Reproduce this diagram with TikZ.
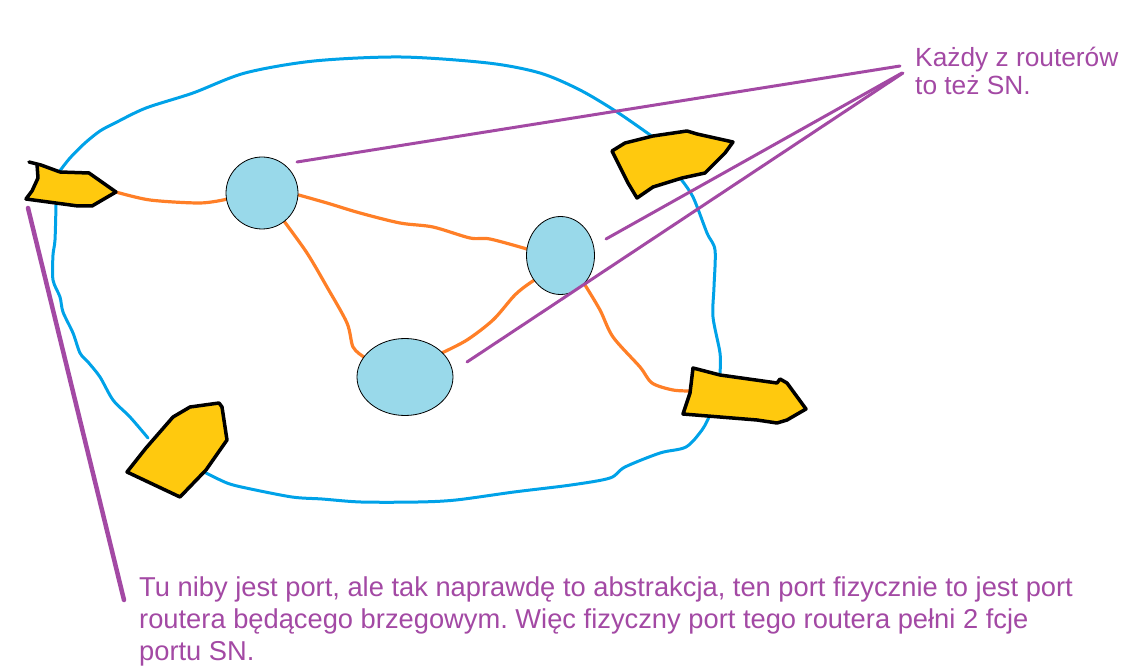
\documentclass[tikz,border=0pt]{standalone}
\usepackage{xcolor}
\usepackage{fontspec}
\setmainfont{Liberation Sans}
\usepackage{tikz}
\usetikzlibrary{positioning}
\usetikzlibrary{shapes.geometric,backgrounds}
\frenchspacing

\definecolor{brzeg}{HTML}{00A2E8}
\definecolor{lacze}{HTML}{FF7F27}
\definecolor{zolty}{HTML}{FFC90E}
\definecolor{wezel}{HTML}{99D9EA}
\definecolor{fiolet}{HTML}{A349A4}

\begin{document}
\begin{tikzpicture}[x=1pt,y=-1pt,
  router/.style={ellipse,draw=black,line width=0.8pt,fill=wezel,inner sep=0pt},
  link/.style={lacze,line width=3.2pt,line cap=round,line join=round},
  granica/.style={brzeg,line width=3pt,line cap=round,line join=round},
  port/.style={draw=black,fill=zolty,line width=3.5pt,line join=round},
  opis/.style={text=fiolet,align=left,inner sep=0pt,anchor=north west},
  wskaz/.style={fiolet,line width=3pt,line cap=round}]
		\useasboundingbox (0,0) rectangle (1122,668);

		\node[router,minimum width=72pt,minimum height=72pt] (r1) at (262,193) {};
		\node[router,minimum width=68pt,minimum height=78pt] (r2) at (560.5,255.5) {};
		\node[router,minimum width=96pt,minimum height=77pt] (r3) at (405,377) {};

		\coordinate (p1) at (116,192);
		\coordinate (p3) at (692,391);

		\begin{scope}[on background layer]
		\draw[granica] plot[smooth,tension=0.5] coordinates {(59,172) (70,158) (85,143) (100,131) (115,123) (146,108) (193,93) (245,73) (314,61) (401,57) (488,63) (540,73) (580,90) (617,112) (653,137)};
		\draw[granica] plot[smooth,tension=0.5] coordinates {(680,178) (693,197) (707,233) (715,250) (714,287) (713,317) (720,353) (720,373)};
		\draw[granica] plot[smooth,tension=0.5] coordinates {(709,417) (702,430) (686,447) (660,453) (625,467) (610,478) (571,485) (514,492) (456,500) (418,502) (361,502) (322,499) (292,497) (246,488) (227,483) (206,473)};
		\draw[granica] plot[smooth,tension=0.5] coordinates {(148,438) (130,417) (113,400) (100,377) (88,362) (80,353) (73,333) (63,312) (60,297) (53,280) (53,255) (55,240) (56,205)};

		\draw[link] plot[smooth,tension=0.5] coordinates {(p1) (150,200) (200,203) (r1.190)};
		\draw[link] plot[smooth,tension=0.5] coordinates {(r1.-3) (327,203) (360,213) (400,223) (433,227) (470,238) (490,239) (r2.169)};
		\draw[link] plot[smooth,tension=0.5] coordinates {(r1.-52) (307,253) (327,287) (347,323) (353,347) (r3.154)};
		\draw[link] plot[smooth,tension=0.5] coordinates {(r3.33) (467,340) (493,320) (513,297) (523,288) (r2.223)};
		\draw[link] plot[smooth,tension=0.5] coordinates {(r2.-50) (600,310) (613,337) (640,367) (652,383) (673,390) (p3)};
		\end{scope}

		\draw[port] (29,162) -- (41,165) -- (60,172) -- (89,173) -- (116,192) -- (92,206) -- (78,206) -- (26,199) -- (32,191) -- (38,178) -- (37,164) -- cycle;
		\draw[port] (612,151) -- (625,143) -- (653,136) -- (687,131) -- (697,134) -- (733,142) -- (725,153) -- (705,173) -- (682,178) -- (653,187) -- (637,198) -- (628,183) -- (615,157) -- cycle;
		\draw[port] (693,368) -- (720,375) -- (777,383) -- (780,379) -- (787,383) -- (806,409) -- (787,420) -- (777,423) -- (757,420) -- (720,417) -- (683,414) -- (690,393) -- cycle;
		\draw[port] (127,472) -- (146,448) -- (173,417) -- (190,407) -- (219,403) -- (222,407) -- (227,440) -- (206,470) -- (180,497) -- cycle;

		\node[opis,font=\fontsize{26.3}{28}\selectfont] (opis1) at (915,47) {Każdy z routerów\\to też SN.};
		\node[opis,font=\fontsize{27.3}{32}\selectfont] (opis2) at (139,577) {Tu niby jest port, ale tak naprawdę to abstrakcja, ten port fizycznie to jest port\\routera będącego brzegowym. Więc fizyczny port tego routera pełni 2 fcje\\portu SN.};

		\coordinate (k1) at (900,66);
		\coordinate (k2) at (902,73);
		\coordinate (k3) at (903,73);
		\coordinate (c1) at (297,162);
		\coordinate (c2) at (606,239);
		\coordinate (c3) at (467,362);
		\coordinate (c4) at (28,208);
		\coordinate (k4) at (124,600);

		\draw[wskaz] (c1) -- (k1);
		\draw[wskaz] (c2) -- (k2);
		\draw[wskaz] (c3) -- (k3);
		\draw[wskaz,line width=4.5pt] (c4) -- (k4);
\end{tikzpicture}
\end{document}
